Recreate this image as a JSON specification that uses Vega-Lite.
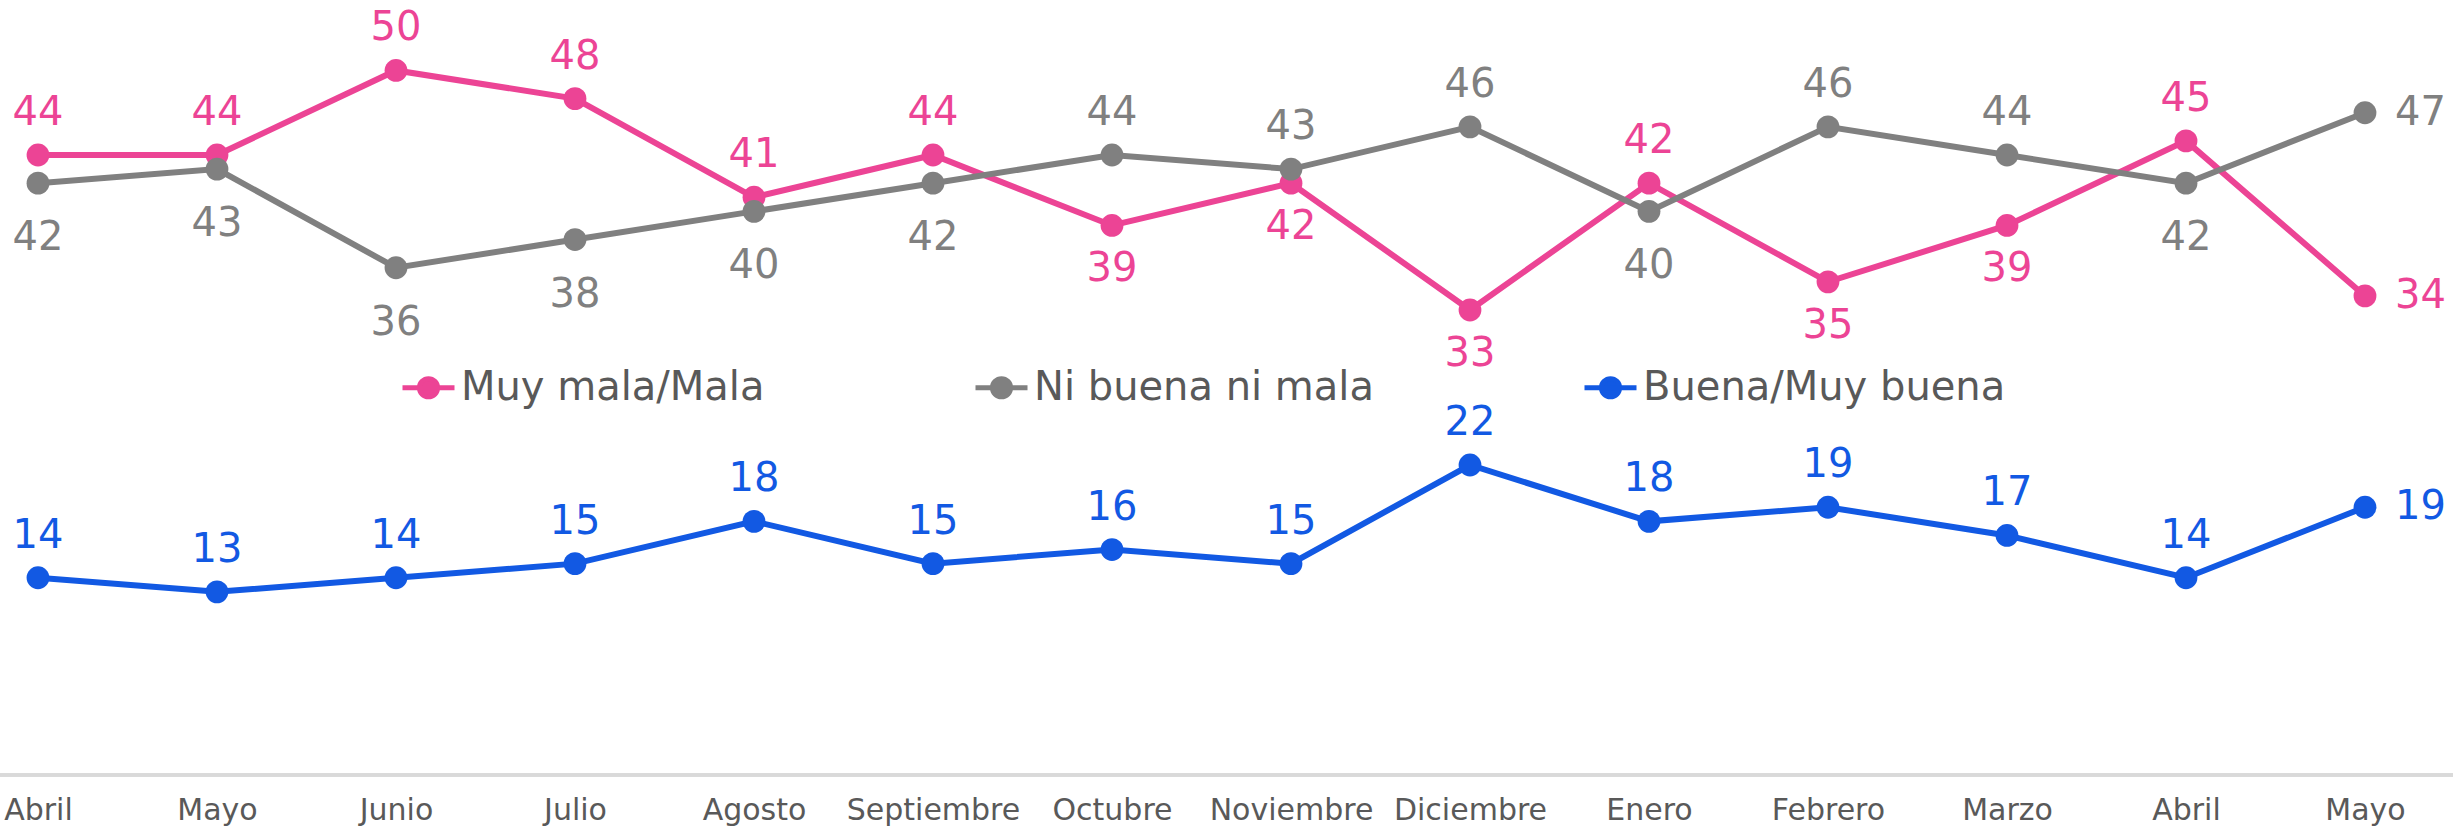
{
  "$schema": "https://vega.github.io/schema/vega-lite/v6.json",
  "width": 2453,
  "height": 775,
  "autosize": {"type": "none"},
  "padding": {"left": 0, "top": 0, "right": 0, "bottom": 54},
  "background": "white",
  "config": {"view": {"stroke": null}, "font": "DejaVu Sans"},
  "data": {"values": [
    {"mes": "Abril", "serie": "Muy mala/Mala", "valor": 44},
    {"mes": "Mayo", "serie": "Muy mala/Mala", "valor": 44},
    {"mes": "Junio", "serie": "Muy mala/Mala", "valor": 50},
    {"mes": "Julio", "serie": "Muy mala/Mala", "valor": 48},
    {"mes": "Agosto", "serie": "Muy mala/Mala", "valor": 41},
    {"mes": "Septiembre", "serie": "Muy mala/Mala", "valor": 44},
    {"mes": "Octubre", "serie": "Muy mala/Mala", "valor": 39},
    {"mes": "Noviembre", "serie": "Muy mala/Mala", "valor": 42},
    {"mes": "Diciembre", "serie": "Muy mala/Mala", "valor": 33},
    {"mes": "Enero", "serie": "Muy mala/Mala", "valor": 42},
    {"mes": "Febrero", "serie": "Muy mala/Mala", "valor": 35},
    {"mes": "Marzo", "serie": "Muy mala/Mala", "valor": 39},
    {"mes": "Abril ", "serie": "Muy mala/Mala", "valor": 45},
    {"mes": "Mayo ", "serie": "Muy mala/Mala", "valor": 34},
    {"mes": "Abril", "serie": "Ni buena ni mala", "valor": 42},
    {"mes": "Mayo", "serie": "Ni buena ni mala", "valor": 43},
    {"mes": "Junio", "serie": "Ni buena ni mala", "valor": 36},
    {"mes": "Julio", "serie": "Ni buena ni mala", "valor": 38},
    {"mes": "Agosto", "serie": "Ni buena ni mala", "valor": 40},
    {"mes": "Septiembre", "serie": "Ni buena ni mala", "valor": 42},
    {"mes": "Octubre", "serie": "Ni buena ni mala", "valor": 44},
    {"mes": "Noviembre", "serie": "Ni buena ni mala", "valor": 43},
    {"mes": "Diciembre", "serie": "Ni buena ni mala", "valor": 46},
    {"mes": "Enero", "serie": "Ni buena ni mala", "valor": 40},
    {"mes": "Febrero", "serie": "Ni buena ni mala", "valor": 46},
    {"mes": "Marzo", "serie": "Ni buena ni mala", "valor": 44},
    {"mes": "Abril ", "serie": "Ni buena ni mala", "valor": 42},
    {"mes": "Mayo ", "serie": "Ni buena ni mala", "valor": 47},
    {"mes": "Abril", "serie": "Buena/Muy buena", "valor": 14},
    {"mes": "Mayo", "serie": "Buena/Muy buena", "valor": 13},
    {"mes": "Junio", "serie": "Buena/Muy buena", "valor": 14},
    {"mes": "Julio", "serie": "Buena/Muy buena", "valor": 15},
    {"mes": "Agosto", "serie": "Buena/Muy buena", "valor": 18},
    {"mes": "Septiembre", "serie": "Buena/Muy buena", "valor": 15},
    {"mes": "Octubre", "serie": "Buena/Muy buena", "valor": 16},
    {"mes": "Noviembre", "serie": "Buena/Muy buena", "valor": 15},
    {"mes": "Diciembre", "serie": "Buena/Muy buena", "valor": 22},
    {"mes": "Enero", "serie": "Buena/Muy buena", "valor": 18},
    {"mes": "Febrero", "serie": "Buena/Muy buena", "valor": 19},
    {"mes": "Marzo", "serie": "Buena/Muy buena", "valor": 17},
    {"mes": "Abril ", "serie": "Buena/Muy buena", "valor": 14},
    {"mes": "Mayo ", "serie": "Buena/Muy buena", "valor": 19}
  ]},
  "layer": [
    {
      "mark": {"type": "rule", "color": "#d9d9d9", "strokeWidth": 3},
      "encoding": {
        "y": {"datum": 0, "type": "quantitative", "scale": {"domain": [0, 55]}, "axis": null}
      }
    },
    {
      "mark": {"type": "line", "strokeWidth": 6, "point": {"filled": true, "size": 520, "opacity": 1}},
      "encoding": {
        "x": {"field": "mes", "type": "ordinal",
              "sort": ["Abril", "Mayo", "Junio", "Julio", "Agosto", "Septiembre", "Octubre", "Noviembre", "Diciembre", "Enero", "Febrero", "Marzo", "Abril ", "Mayo "],
              "scale": {"type": "point", "range": [38, 2365], "padding": 0},
              "axis": {"title": null, "domain": false, "ticks": false, "grid": false, "labelAngle": 0,
                       "labelFontSize": 30, "labelColor": "#595959", "labelFont": "DejaVu Sans",
                       "labelPadding": 20, "labelOverlap": false, "labelBound": false, "labelLimit": 0,
                       "labelExpr": "trim(datum.label)"}},
        "y": {"field": "valor", "type": "quantitative", "scale": {"domain": [0, 55]}, "axis": null},
        "color": {"field": "serie", "type": "nominal",
                  "scale": {"domain": ["Muy mala/Mala", "Ni buena ni mala", "Buena/Muy buena"], "range": ["#EC4495", "#808080", "#1259E3"]},
                  "legend": {"orient": "none", "legendX": 400, "legendY": 359, "direction": "horizontal", "title": null,
                             "labelFontSize": 40, "labelColor": "#595959", "labelFont": "DejaVu Sans", "labelLimit": 0,
                             "symbolType": "M -1 0 L 1 0 M -0.35 0 A 0.35 0.35 0 1 0 0.35 0 A 0.35 0.35 0 1 0 -0.35 0 Z",
                             "symbolSize": 2704, "symbolStrokeWidth": 5, "columnPadding": 200, "labelOffset": 4,
                             "encode": {"symbols": {"update": {"fill": {"scale": "color", "field": "value"}, "stroke": {"scale": "color", "field": "value"}, "opacity": {"value": 1}}}}}}
      }
    },
    {
      "transform": [{"filter": "(datum.serie == 'Buena/Muy buena' && datum.mes != 'Mayo ') || (datum.serie == 'Muy mala/Mala' && indexof(['Abril','Mayo','Junio','Julio','Agosto','Septiembre','Enero','Abril '], datum.mes) >= 0) || (datum.serie == 'Ni buena ni mala' && indexof(['Octubre','Noviembre','Diciembre','Febrero','Marzo'], datum.mes) >= 0)"}],
      "mark": {"type": "text", "dy": -42, "fontSize": 40, "font": "DejaVu Sans", "baseline": "middle"},
      "encoding": {
        "x": {"field": "mes", "type": "ordinal", "sort": ["Abril", "Mayo", "Junio", "Julio", "Agosto", "Septiembre", "Octubre", "Noviembre", "Diciembre", "Enero", "Febrero", "Marzo", "Abril ", "Mayo "]},
        "y": {"field": "valor", "type": "quantitative"},
        "text": {"field": "valor", "type": "quantitative"},
        "color": {"field": "serie", "type": "nominal"}
      }
    },
    {
      "transform": [{"filter": "datum.serie == 'Muy mala/Mala' && indexof(['Octubre','Noviembre','Diciembre','Febrero','Marzo'], datum.mes) >= 0"}],
      "mark": {"type": "text", "dy": 44, "fontSize": 40, "font": "DejaVu Sans", "baseline": "middle"},
      "encoding": {
        "x": {"field": "mes", "type": "ordinal", "sort": ["Abril", "Mayo", "Junio", "Julio", "Agosto", "Septiembre", "Octubre", "Noviembre", "Diciembre", "Enero", "Febrero", "Marzo", "Abril ", "Mayo "]},
        "y": {"field": "valor", "type": "quantitative"},
        "text": {"field": "valor", "type": "quantitative"},
        "color": {"field": "serie", "type": "nominal"}
      }
    },
    {
      "transform": [{"filter": "datum.serie == 'Ni buena ni mala' && indexof(['Abril','Mayo','Junio','Julio','Agosto','Septiembre','Enero','Abril '], datum.mes) >= 0"}],
      "mark": {"type": "text", "dy": 55, "fontSize": 40, "font": "DejaVu Sans", "baseline": "middle"},
      "encoding": {
        "x": {"field": "mes", "type": "ordinal", "sort": ["Abril", "Mayo", "Junio", "Julio", "Agosto", "Septiembre", "Octubre", "Noviembre", "Diciembre", "Enero", "Febrero", "Marzo", "Abril ", "Mayo "]},
        "y": {"field": "valor", "type": "quantitative"},
        "text": {"field": "valor", "type": "quantitative"},
        "color": {"field": "serie", "type": "nominal"}
      }
    },
    {
      "transform": [{"filter": "datum.mes == 'Mayo '"}],
      "mark": {"type": "text", "dx": 30, "align": "left", "fontSize": 40, "font": "DejaVu Sans", "baseline": "middle"},
      "encoding": {
        "x": {"field": "mes", "type": "ordinal", "sort": ["Abril", "Mayo", "Junio", "Julio", "Agosto", "Septiembre", "Octubre", "Noviembre", "Diciembre", "Enero", "Febrero", "Marzo", "Abril ", "Mayo "]},
        "y": {"field": "valor", "type": "quantitative"},
        "text": {"field": "valor", "type": "quantitative"},
        "color": {"field": "serie", "type": "nominal"}
      }
    }
  ]
}
